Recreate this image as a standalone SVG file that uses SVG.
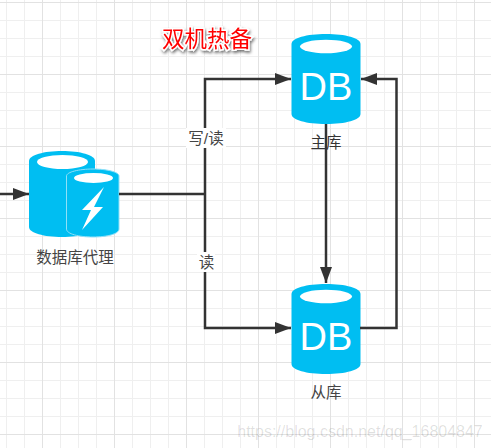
<svg xmlns="http://www.w3.org/2000/svg" width="491" height="448" viewBox="0 0 491 448">
<defs>
<pattern id="grid" width="72" height="72" patternUnits="userSpaceOnUse" x="42" y="2">
<path d="M18.5 0V72M36.5 0V72M54.5 0V72M0 18.5H72M0 36.5H72M0 54.5H72" fill="none" stroke="#efefef" stroke-width="1"/>
<path d="M.5 0V72M0 .5H72" fill="none" stroke="#e2e2e2" stroke-width="1"/>
</pattern>
<marker id="arrow" markerUnits="userSpaceOnUse" markerWidth="17" markerHeight="12" refX="16" refY="6" orient="auto">
<path d="M0 0L16 6L0 12Z" fill="#333"/>
</marker>
<filter id="glow" x="-20%" y="-40%" width="140%" height="190%">
<feDropShadow dx="1" dy="2" stdDeviation="1.6" flood-color="#000" flood-opacity=".55"/>
</filter>
<path id="db" d="M0 10C0 4 15 0 34.500 0S69 4 69 10V80C69 86 54 90 34.500 90S0 86 0 80Z" fill="#00bef2"/>
</defs>
<style>
text{font-family:"Liberation Sans","Noto Sans CJK SC",sans-serif;fill:#444;font-size:15.500px;text-anchor:middle}
.conn{fill:none;stroke:#333;stroke-width:2.500}
.db{fill:#fff;font-size:38px}
</style>
<rect width="491" height="448" fill="#fff"/>
<rect width="491" height="448" fill="url(#grid)"/>
<g id="title"><text x="207" y="47" filter="url(#glow)" stroke="#fff" stroke-width="3" paint-order="stroke" style="fill:#f00;font-size:22.500px">双机热备</text></g>
<g id="proxy">
<path d="M29 161C29 155 44 151 62 151S95 155 95 161V227C95 233 80 237 62 237S29 233 29 227Z" fill="#00bef2"/>
<ellipse cx="62.500" cy="162" rx="25.500" ry="7" fill="#fff"/>
<path d="M66.500 176C66.500 172 79 169 93 169S119 172 119 176V229C119 234 107 237 93 237S66.500 234 66.500 229Z" fill="#00bef2" stroke="#8fe0f8" stroke-width="1"/>
<ellipse cx="93.500" cy="178" rx="19.500" ry="5" fill="#fff"/>
<path d="M104 187L82 210H91L82 230L103 207H94Z" fill="#fff"/>
<text x="75" y="263">数据库代理</text>
</g>
<g id="master"><use href="#db" x="291.500" y="34"/><ellipse cx="326" cy="46.500" rx="26" ry="6.700" fill="#fff"/><text class="db" x="326" y="100">DB</text></g>
<g id="slave"><use href="#db" x="291.500" y="284"/><ellipse cx="326" cy="296.500" rx="26" ry="6.700" fill="#fff"/><text class="db" x="326" y="350">DB</text><text x="326" y="398">从库</text></g>
<g id="connectors">
<path class="conn" d="M0 194H29" marker-end="url(#arrow)"/>
<path class="conn" d="M119 194H205"/>
<path class="conn" d="M205 194V79H291" marker-end="url(#arrow)"/>
<path class="conn" d="M205 194V328H291" marker-end="url(#arrow)"/>
<path class="conn" d="M326 124V283" marker-end="url(#arrow)"/>
<path class="conn" d="M360 328H396.500V79H361" marker-end="url(#arrow)"/>
<rect x="186" y="128" width="40" height="20" fill="#fff"/>
<text x="206" y="144">写/读</text>
<rect x="197" y="252" width="18" height="20" fill="#fff"/>
<text x="206.500" y="268">读</text>
</g>
<text x="326" y="148" style="fill:#333">主库</text>
<text x="360" y="437" style="fill:#000;fill-opacity:.13;font-size:16px">https://blog.csdn.net/qq_16804847</text>
</svg>
